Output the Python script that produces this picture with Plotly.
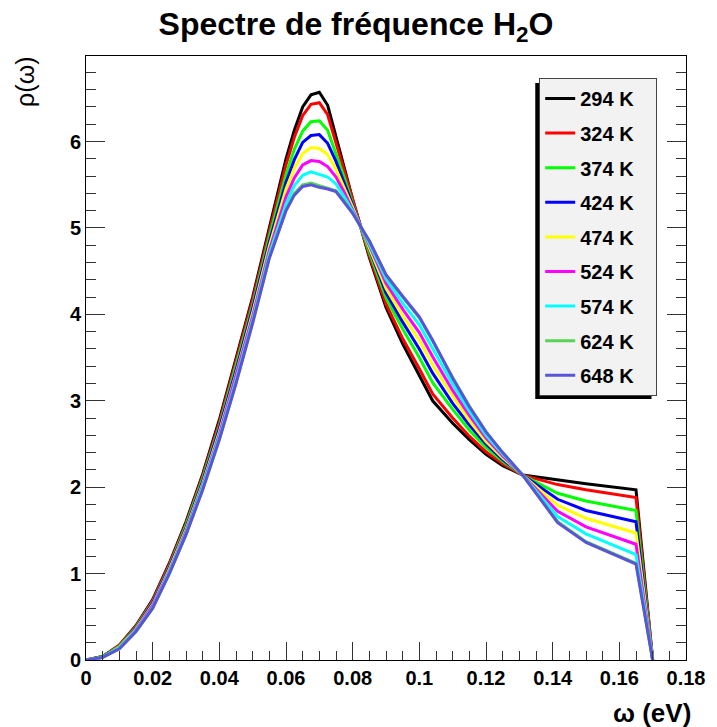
import plotly.graph_objects as go

# ---------------- data ----------------
omega = [0, 0.005, 0.01, 0.015, 0.02, 0.025, 0.03, 0.035, 0.04, 0.045, 0.05, 0.055,
         0.06, 0.0625, 0.065, 0.0675, 0.07, 0.0725, 0.075, 0.0775, 0.08, 0.085, 0.09,
         0.095, 0.1, 0.104, 0.11, 0.115, 0.12, 0.125, 0.131, 0.1415, 0.15, 0.165, 0.17]

rho_294 = [0, 0.04, 0.17, 0.40, 0.70, 1.12, 1.60, 2.15, 2.78, 3.48, 4.20, 5.00,
           5.80, 6.13, 6.40, 6.54, 6.57, 6.42, 6.05, 5.70, 5.33, 4.66, 4.08,
           3.66, 3.30, 3.00, 2.74, 2.55, 2.38, 2.25, 2.14, 2.08, 2.04, 1.97, 0]
rho_324 = [0, 0.04, 0.17, 0.39, 0.69, 1.11, 1.58, 2.13, 2.75, 3.45, 4.17, 4.96,
           5.73, 6.05, 6.30, 6.43, 6.45, 6.31, 5.98, 5.66, 5.31, 4.68, 4.12,
           3.72, 3.37, 3.08, 2.80, 2.59, 2.41, 2.27, 2.14, 2.03, 1.97, 1.88, 0]
rho_374 = [0, 0.04, 0.16, 0.38, 0.67, 1.08, 1.56, 2.10, 2.71, 3.40, 4.11, 4.90,
           5.62, 5.91, 6.12, 6.23, 6.24, 6.13, 5.86, 5.58, 5.28, 4.72, 4.19,
           3.83, 3.50, 3.21, 2.90, 2.66, 2.46, 2.30, 2.14, 1.93, 1.84, 1.73, 0]
rho_424 = [0, 0.035, 0.15, 0.37, 0.66, 1.07, 1.53, 2.07, 2.68, 3.35, 4.07, 4.84,
           5.53, 5.79, 5.99, 6.07, 6.08, 5.98, 5.77, 5.52, 5.26, 4.75, 4.25,
           3.91, 3.60, 3.32, 2.97, 2.72, 2.50, 2.32, 2.14, 1.86, 1.73, 1.60, 0]
rho_474 = [0, 0.03, 0.15, 0.36, 0.64, 1.05, 1.51, 2.04, 2.64, 3.31, 4.02, 4.79,
           5.45, 5.69, 5.86, 5.93, 5.92, 5.85, 5.68, 5.46, 5.24, 4.77, 4.30,
           3.98, 3.70, 3.41, 3.05, 2.77, 2.53, 2.34, 2.14, 1.79, 1.64, 1.47, 0]
rho_524 = [0, 0.03, 0.14, 0.35, 0.63, 1.03, 1.49, 2.02, 2.61, 3.28, 3.98, 4.74,
           5.36, 5.58, 5.73, 5.78, 5.77, 5.71, 5.59, 5.41, 5.21, 4.80, 4.36,
           4.06, 3.79, 3.51, 3.12, 2.83, 2.57, 2.36, 2.14, 1.72, 1.54, 1.34, 0]
rho_574 = [0, 0.03, 0.14, 0.34, 0.61, 1.02, 1.47, 2.00, 2.58, 3.24, 3.94, 4.70,
           5.28, 5.49, 5.61, 5.65, 5.62, 5.59, 5.51, 5.36, 5.19, 4.82, 4.41,
           4.13, 3.88, 3.60, 3.19, 2.88, 2.60, 2.38, 2.14, 1.66, 1.46, 1.22, 0]
rho_624 = [0, 0.03, 0.13, 0.33, 0.60, 1.00, 1.45, 1.97, 2.55, 3.21, 3.91, 4.66,
           5.21, 5.40, 5.50, 5.52, 5.49, 5.46, 5.43, 5.31, 5.17, 4.85, 4.45,
           4.20, 3.96, 3.69, 3.27, 2.94, 2.64, 2.40, 2.14, 1.60, 1.37, 1.12, 0]
rho_648 = [0, 0.03, 0.13, 0.33, 0.60, 1.00, 1.45, 1.97, 2.55, 3.20, 3.90, 4.65,
           5.20, 5.38, 5.48, 5.50, 5.47, 5.45, 5.42, 5.30, 5.17, 4.85, 4.46,
           4.21, 3.97, 3.70, 3.26, 2.93, 2.64, 2.40, 2.14, 1.59, 1.36, 1.11, 0]

labels = ["294 K", "324 K", "374 K", "424 K", "474 K", "524 K", "574 K", "624 K", "648 K"]
series = [rho_294, rho_324, rho_374, rho_424, rho_474, rho_524, rho_574, rho_624, rho_648]
colors = ["#000000", "#ff0000", "#00ff00", "#0000ff", "#ffff00", "#ff00ff", "#00ffff",
          "#59d454", "#5954d9"]

x_ticks = [0, 0.02, 0.04, 0.06, 0.08, 0.1, 0.12, 0.14, 0.16, 0.18]
y_ticks = [0, 1, 2, 3, 4, 5, 6]

# ---------------- layout geometry ----------------
W, H = 717, 727
L, R, T, B = 86, 22, 56, 67
PW, PH = W - L - R, H - T - B


def px2x(px):
    return (px - L) / PW


def py2y(py):
    return (H - B - py) / PH


FONT = "Liberation Sans"
PAD = "\u00a0\u00a0\u00a0"  # right padding inside the legend box

fig = go.Figure()
for i, (lab, ys, c) in enumerate(zip(labels, series, colors)):
    fig.add_trace(go.Scatter(x=omega, y=ys, mode="lines", name=lab + PAD,
                             legendgroup=str(i),
                             line=dict(color=c, width=3)))

fig.update_layout(
    width=W, height=H,
    margin=dict(l=L, r=R, t=T, b=B, pad=0),
    paper_bgcolor="white", plot_bgcolor="white",
    title=dict(text="<b>Spectre de fréquence H<sub>2</sub>O</b>",
               font=dict(family=FONT, size=32, color="black"),
               x=356 / W, xanchor="center", xref="container",
               y=1 - 24 / H, yanchor="middle", yref="container"),
    showlegend=True,
    legend=dict(x=px2x(546), y=py2y(78), xanchor="left", yanchor="top",
                bgcolor="#f2f2f2", bordercolor="#444", borderwidth=1,
                font=dict(family=FONT, size=20, color="black", weight="bold"),
                tracegroupgap=5.6, itemwidth=30, traceorder="grouped"),
    xaxis=dict(range=[0, 0.18], tickvals=x_ticks, ticks="inside", ticklen=18,
               tickwidth=1, tickcolor="#333", showgrid=False, zeroline=False,
               showline=True, linecolor="black", linewidth=1, mirror=True,
               tickfont=dict(family=FONT, size=20, color="black", weight="bold"),
               minor=dict(dtick=0.005, ticks="inside", ticklen=9, tickcolor="#333",
                          showgrid=False)),
    yaxis=dict(range=[0, 6.99], tickvals=y_ticks, ticks="inside", ticklen=19,
               tickwidth=1, tickcolor="#333", showgrid=False, zeroline=False,
               showline=True, linecolor="black", linewidth=1, mirror="ticks",
               tickfont=dict(family=FONT, size=20, color="black", weight="bold"),
               minor=dict(dtick=0.2, ticks="inside", ticklen=10, tickcolor="#333",
                          showgrid=False)),
    annotations=[
        dict(text="<b>ω (eV)</b>", x=px2x(702), xref="paper", xanchor="right",
             y=py2y(713), yref="paper", yanchor="middle", showarrow=False,
             font=dict(family=FONT, size=26, color="black")),
        dict(text="ρ(ω)", x=px2x(24), xref="paper", xanchor="center",
             y=py2y(55), yref="paper", yanchor="top", textangle=-90, showarrow=False,
             font=dict(family=FONT, size=25, color="black")),
    ],
    shapes=[
        dict(type="rect", xref="paper", yref="paper",
             x0=px2x(542), x1=px2x(660), y0=py2y(83), y1=py2y(399),
             fillcolor="black", line=dict(width=0), layer="above"),
    ],
)

fig.write_html("out.html")
